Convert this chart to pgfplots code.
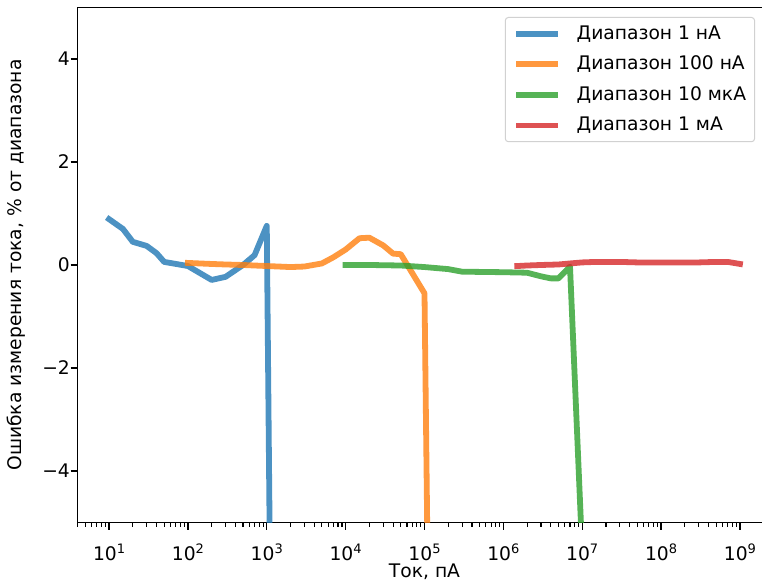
\documentclass[border=0pt]{standalone}
\usepackage{fontspec}
\setmainfont{DejaVu Sans}
\usepackage{pgfplots}
\pgfplotsset{compat=1.18}
\usetikzlibrary{calc}
\definecolor{tabblue}{RGB}{31,119,180}
\definecolor{taborange}{RGB}{255,127,14}
\definecolor{tabgreen}{RGB}{44,160,44}
\definecolor{tabred}{RGB}{214,39,40}
\newcommand{\tl}[1]{10\raisebox{6.2bp}{\fontsize{13bp}{15bp}\selectfont #1}}
\begin{document}
\fontsize{18.7bp}{22bp}\selectfont
\begin{tikzpicture}
\begin{axis}[name=ax, at={(0,0)}, anchor=south west,
  scale only axis, width=694bp, height=515bp,
  xmode=log, log basis x=10,
  xmin=3.981, xmax=2.512e9, ymin=-5, ymax=5,
  xtick={10,100,1000,1e4,1e5,1e6,1e7,1e8,1e9},
  xticklabels={\tl{1},\tl{2},\tl{3},\tl{4},\tl{5},\tl{6},\tl{7},\tl{8},\tl{9}},
  minor xtick={4,5,6,7,8,9,20,30,40,50,60,70,80,90,200,300,400,500,600,700,800,900,
    2000,3000,4000,5000,6000,7000,8000,9000,2e4,3e4,4e4,5e4,6e4,7e4,8e4,9e4,
    2e5,3e5,4e5,5e5,6e5,7e5,8e5,9e5,2e6,3e6,4e6,5e6,6e6,7e6,8e6,9e6,
    2e7,3e7,4e7,5e7,6e7,7e7,8e7,9e7,2e8,3e8,4e8,5e8,6e8,7e8,8e8,9e8},
  ytick={-4,-2,0,2,4},
  yticklabels={−4,−2,0,2,4},
  tick align=outside, tick pos=left,
  major tick length=7bp, minor tick length=4bp,
  every tick/.style={black, line width=1.4bp},
  every minor tick/.append style={line width=1.1bp},
  axis line style={line width=1.5bp, black},
  xticklabel style={anchor=base, inner sep=0pt, yshift=-30.5bp},
  yticklabel style={anchor=east, inner sep=0pt, xshift=-0.5bp},
  every axis y label/.style={at={(axis description cs:-0.0886,0.5)}, anchor=center, rotate=90},
  every axis x label/.style={at={(axis description cs:0.5,0)}, anchor=base, yshift=-55bp},
  xlabel={Ток, пА},
  ylabel={Ошибка измерения тока, \% от диапазона},
  legend cell align=left,
  legend image code/.code={\path (0bp,-1bp) (44bp,1bp); \draw[#1] (5bp,0bp) -- (41bp,0bp);},
  legend style={at={(axis description cs:0.9763,0.9816)}, anchor=north east,
    draw=black!18, line width=1bp, rounded corners=3bp, fill=white,
    inner xsep=5.5bp, inner ysep=7bp, row sep=12bp, column sep=13bp,
    nodes={inner xsep=3bp, inner ysep=1bp},
    font=\fontsize{18.7bp}{22bp}\selectfont},
  every axis plot/.append style={line width=5.8bp, opacity=0.8, line join=round, line cap=rect},
]
\addplot[color=tabblue] coordinates {
 (10,0.89) (15,0.70) (20,0.45) (30,0.37) (40,0.23) (50,0.06) (100,-0.02)
 (200,-0.29) (300,-0.23) (500,0.0) (700,0.19) (1000,0.76) (1100,-6)};
\addlegendentry{Диапазон 1 нА}
\addplot[color=taborange] coordinates {
 (100,0.04) (200,0.02) (300,0.01) (500,0.0) (700,-0.01) (1000,-0.02) (2000,-0.04)
 (3000,-0.03) (5000,0.03) (7000,0.15) (10000,0.30) (15000,0.52) (20000,0.53)
 (30000,0.38) (40000,0.22) (50000,0.21) (100000,-0.55) (110000,-6)};
\addlegendentry{Диапазон 100 нА}
\addplot[color=tabgreen] coordinates {
 (10000,0.0) (20000,0.0) (50000,-0.01) (100000,-0.04) (200000,-0.08) (300000,-0.13)
 (1e6,-0.14) (2e6,-0.15) (3e6,-0.22) (4e6,-0.26) (5e6,-0.26) (7e6,-0.03) (1e7,-5.6)};
\addlegendentry{Диапазон 10 мкА}
\addplot[color=tabred] coordinates {
 (1.5e6,-0.02) (2e6,-0.01) (3e6,0.0) (5e6,0.01) (7e6,0.03) (1e7,0.05) (1.5e7,0.06)
 (2e7,0.06) (3e7,0.06) (5e7,0.05) (1e8,0.05) (2e8,0.05) (3e8,0.05) (5e8,0.06)
 (7e8,0.06) (1e9,0.02)};
\addlegendentry{Диапазон 1 мА}
\end{axis}
\pgfresetboundingbox
\path[use as bounding box] ($(ax.south west)+(-77.5bp,-61.5bp)$) rectangle ($(ax.south west)+(684.5bp,522.5bp)$);
\end{tikzpicture}
\end{document}
